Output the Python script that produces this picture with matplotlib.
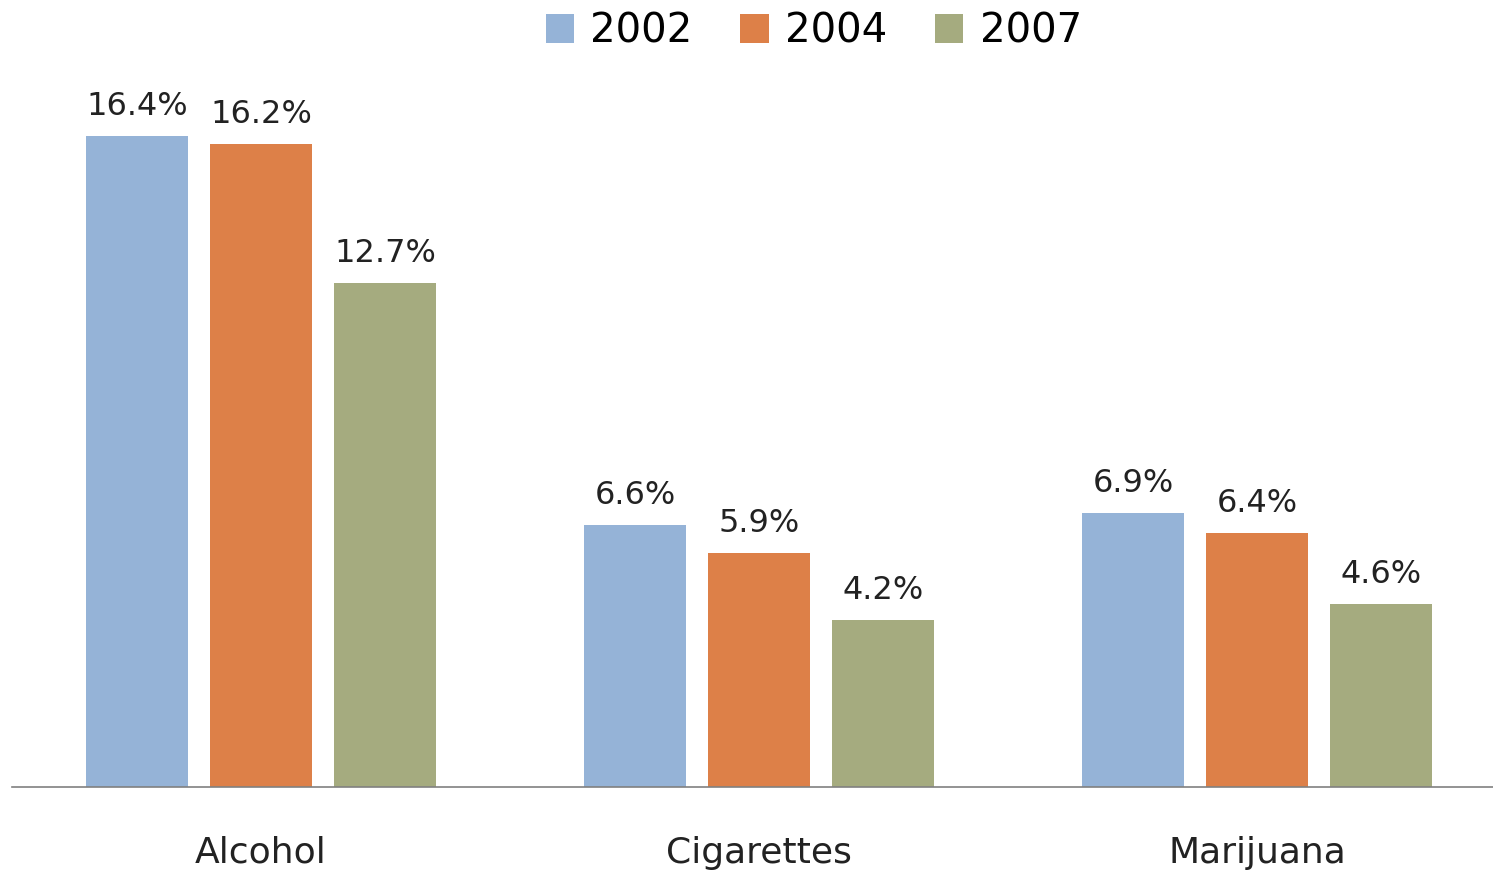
import matplotlib.pyplot as plt
import numpy as np

categories = ["Alcohol", "Cigarettes", "Marijuana"]
years = ["2002", "2004", "2007"]
values_2002 = [16.4, 6.6, 6.9]
values_2004 = [16.2, 5.9, 6.4]
values_2007 = [12.7, 4.2, 4.6]
colors = ["#95B3D7", "#DD8048", "#A5AB7F"]

plt.rcParams['font.family'] = ['DejaVu Sans']

fig = plt.figure(figsize=(14.93, 8.77), dpi=100)
ax = fig.add_axes([12 / 1493, 1 - 787 / 877, 1481 / 1493, 787 / 877])

x = np.arange(len(categories))
width = 0.203
offset = 0.249
series = [values_2002, values_2004, values_2007]

for i, (vals, year, col) in enumerate(zip(series, years, colors)):
    pos = x + (i - 1) * offset
    bars = ax.bar(pos, vals, width, color=col, label=year)
    for b, v in zip(bars, vals):
        ax.text(b.get_x() + b.get_width() / 2, v + 0.35, f"{v:.1f}%",
                ha='center', va='bottom', fontsize=23, color='#222222')

ax.set_xlim(-0.5, -0.5 + 1481 / 498)
ax.set_ylim(0, 787 / 39.7)

for s in ['top', 'right', 'left']:
    ax.spines[s].set_visible(False)
ax.spines['bottom'].set_color('#808080')
ax.spines['bottom'].set_linewidth(1.2)
ax.set_yticks([])
ax.set_xticks(x)
ax.set_xticklabels(categories, fontsize=26, color='#222222')
ax.tick_params(axis='x', length=0, pad=35)

fig.legend(loc='upper center', bbox_to_anchor=(0.545, 1.028), ncol=3,
           frameon=False, fontsize=29, handlelength=0.7, handleheight=0.7,
           handletextpad=0.4, columnspacing=1.2)

fig.savefig("out.png", dpi=100)
